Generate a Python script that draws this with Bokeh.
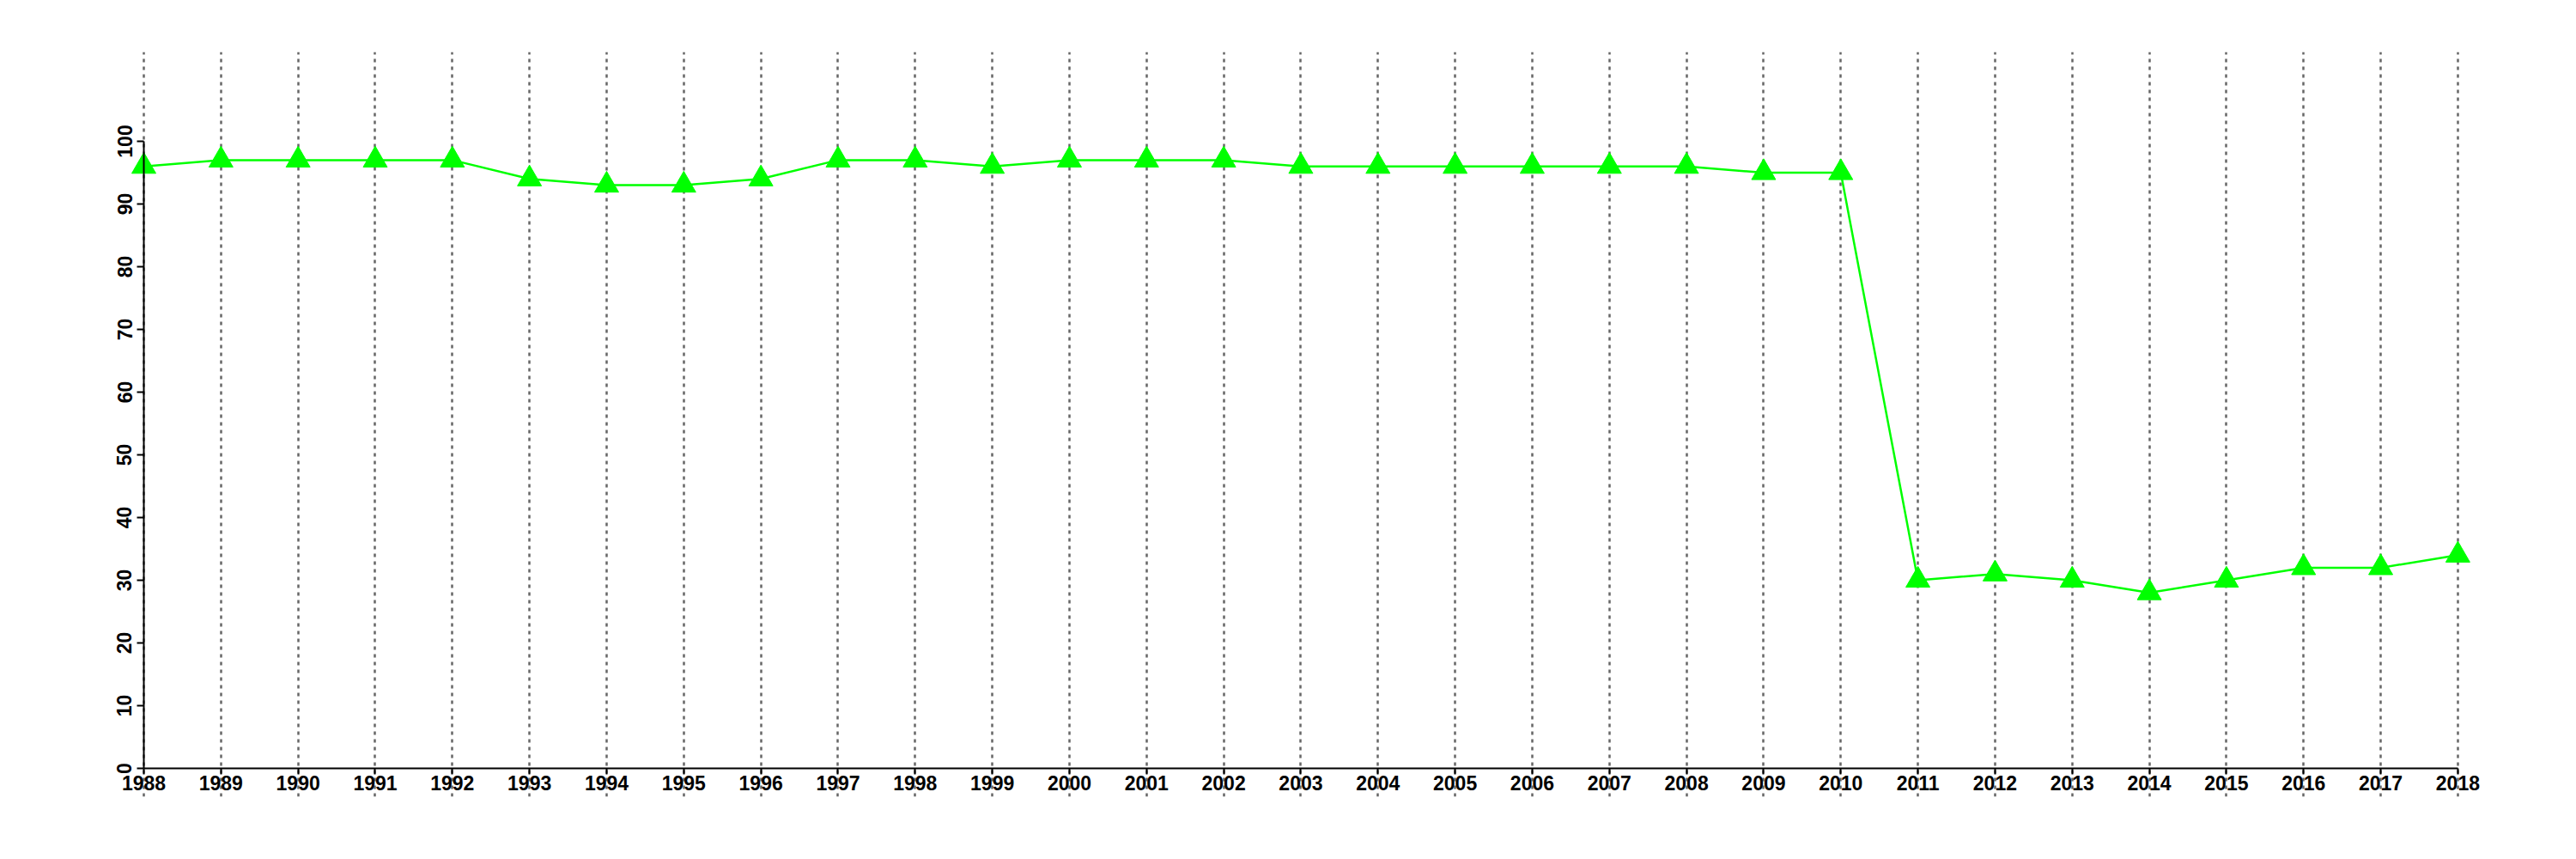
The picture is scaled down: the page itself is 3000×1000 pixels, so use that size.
from bokeh.plotting import figure
from bokeh.models import LinearAxis, Grid, FixedTicker, Range1d
from bokeh.embed import file_html
from bokeh.resources import INLINE

years = list(range(1988, 2019))
values = [96, 97, 97, 97, 97, 94, 93, 93, 94, 97,
          97, 96, 97, 97, 97, 96, 96, 96, 96, 96,
          96, 95, 95, 30, 31, 30, 28, 30, 32, 32, 34]
y_ticks = list(range(0, 101, 10))

W, H = 2980, 980
p = figure(width=W, height=H, output_backend="svg", toolbar_location=None,
           x_axis_type=None, y_axis_type=None, title=None,
           x_range=Range1d(1987.2541, 2018.3128), y_range=Range1d(-4.521, 114.247),
           min_border_left=100, min_border_right=90, min_border_top=60, min_border_bottom=53)
p.outline_line_color = None
p.background_fill_color = "white"
p.border_fill_color = "white"

grid = Grid(dimension=0, ticker=FixedTicker(ticks=years),
            grid_line_color="#666666", grid_line_width=2.5, grid_line_dash="4 5")
p.add_layout(grid, "center")

p.line(years, values, line_color="#00FF00", line_width=2.5)
p.scatter(years, values, marker="triangle", size=28, fill_color="#00FF00",
          line_color="#00FF00", line_width=1)

font = "Liberation Sans"
xaxis = LinearAxis(fixed_location=0, ticker=FixedTicker(ticks=years), bounds=(1988, 2018))
xaxis.axis_line_width = 2
xaxis.axis_line_color = "black"
xaxis.major_tick_out = 7
xaxis.major_tick_in = 0
xaxis.major_tick_line_width = 2
xaxis.minor_tick_out = 0
xaxis.minor_tick_in = 0
xaxis.major_label_standoff = 2
xaxis.major_label_text_font = font
xaxis.major_label_text_font_style = "bold"
xaxis.major_label_text_font_size = "23px"
xaxis.major_label_text_color = "black"
p.add_layout(xaxis, "below")

yaxis = LinearAxis(fixed_location=1988, ticker=FixedTicker(ticks=y_ticks), bounds=(0, 100))
yaxis.axis_line_width = 2
yaxis.axis_line_color = "black"
yaxis.major_tick_out = 8
yaxis.major_tick_in = 0
yaxis.major_tick_line_width = 2
yaxis.minor_tick_out = 0
yaxis.minor_tick_in = 0
yaxis.major_label_standoff = 6
yaxis.major_label_orientation = "vertical"
yaxis.major_label_text_font = font
yaxis.major_label_text_font_style = "bold"
yaxis.major_label_text_font_size = "23px"
yaxis.major_label_text_color = "black"
p.add_layout(yaxis, "left")

open("out.html", "w").write(file_html(p, INLINE))
